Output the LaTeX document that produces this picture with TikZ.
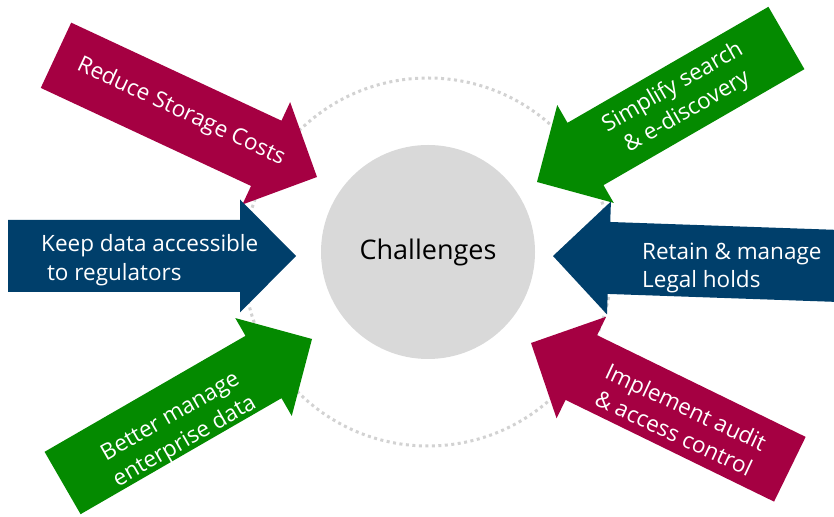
\documentclass[tikz,border=0pt]{standalone}
\usepackage{fontspec}
\setmainfont{Open Sans}
\usepackage{tikz}
\definecolor{wine}{HTML}{A50042}
\definecolor{navy}{HTML}{003F6B}
\definecolor{leaf}{HTML}{048A00}
\definecolor{ring}{HTML}{D2D2D2}
\definecolor{disc}{HTML}{D9D9D9}
% block arrow: tip coordinate, angle, colour
\newcommand{\bigarrow}[3]{%
	\fill[#3,shift={(#1)},rotate=#2] (0,0) -- (-56,-56.5) -- (-56,-36) -- (-288,-36)
		-- (-288,36) -- (-56,36) -- (-56,56.5) -- cycle;}

\begin{document}
\begin{tikzpicture}[x=1pt,y=1pt]
	\tikzstyle{label}=[text=white,inner sep=0pt,font=\fontsize{22.5}{28.5}\selectfont]
	\useasboundingbox (0,0) rectangle (834,516);
	
	\draw[ring,line width=3pt,dash pattern=on 3pt off 3.5pt] (428,254) circle (184);
	\node[circle,fill=disc,minimum size=214pt,inner sep=0pt,font=\fontsize{27}{30}\selectfont] at (428,264) (chal) {Challenges};
	
	\coordinate (tl) at (317,339);
	\coordinate (ml) at (296,260);
	\coordinate (bl) at (312,177);
	\coordinate (tr) at (537,334);
	\coordinate (mr) at (553,260);
	\coordinate (br) at (531,173);
	
	\bigarrow{tl}{-25}{wine}
	\bigarrow{ml}{0}{navy}
	\bigarrow{bl}{30}{leaf}
	\bigarrow{tr}{210}{leaf}
	\bigarrow{mr}{178}{navy}
	\bigarrow{br}{154}{wine}
	
	\node[label,rotate=-25] at (181,404) (cost) {Reduce Storage Costs};
	\node[label,anchor=west,align=left] at (41,256) (access) {Keep data accessible\\\ to regulators};
	\node[label,rotate=30,align=center] at (178,86) (enterprise) {Better manage\\enterprise data};
	\node[label,rotate=30,align=center] at (680,416) (search) {Simplify search\\\& e-discovery};
	\node[label,anchor=west,align=left] at (642,248) (legal) {Retain \& manage\\Legal holds};
	\node[label,rotate=-25,align=center] at (680,96) (audit) {Implement audit\\\& access control};
\end{tikzpicture}
\end{document}
